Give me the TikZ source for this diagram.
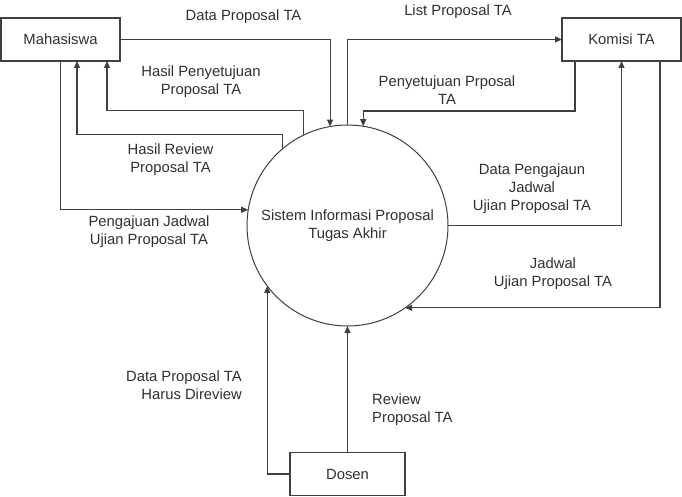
\documentclass[tikz,border=0pt]{standalone}
\usepackage{fontspec}
\setmainfont{Liberation Sans}
\usetikzlibrary{arrows.meta}
\definecolor{ln}{HTML}{404040}
\definecolor{tx}{HTML}{303030}
\begin{document}
\begin{tikzpicture}[x=1pt,y=-1pt,
  font=\fontsize{14.8}{18}\selectfont,
  ent/.style={draw=ln,line width=1.2pt,minimum height=43pt,inner sep=0pt,outer sep=0pt,text=tx},
  proc/.style={draw=ln,line width=1pt,circle,minimum size=201pt,inner sep=0pt,outer sep=0pt,text=tx,align=center},
  flow/.style={draw=ln,line width=1.1pt,-{Triangle[length=7pt,width=6pt]}},
  lbl/.style={text=tx,align=center,inner sep=0pt}]
\useasboundingbox[fill=white] (0,0) rectangle (682,497);

\node[ent,minimum width=119pt] (m) at (60.5,39.5) {Mahasiswa};
\node[ent,minimum width=119pt] (k) at (621.5,39.5) {Komisi TA};
\node[ent,minimum width=115pt] (d) at (347.5,474) {Dosen};
\node[proc] (c) at (347.5,225.5) {Sistem Informasi Proposal\\Tugas Akhir};

% flows
\draw[flow] (m.east) -| (c.100.08);
\draw[flow] (c.north) |- (k.west);
\draw[flow] ([xshift=13pt]k.south west) -- ++(0,50) -| (c.81.08);
\draw[flow] (c.east) -| (k.south);
\draw[flow] ([xshift=-21pt]k.south east) |- (c.-55.6);
\draw[flow] (c.116.42) -- ++(0,-25) -| ([xshift=106pt]m.south west);
\draw[flow] (c.130.16) -- ++(0,-14) -| ([xshift=76pt]m.south west);
\draw[flow] (m.south) |- (c.171.08);
\draw[flow] (d.west) -| (c.-143.6);
\draw[flow] (d.north) -- (c.south);

% labels
\node[lbl] (l1) at (243.5,17) {Data Proposal TA};
\node[lbl] (l2) at (458,12) {List Proposal TA};
\node[lbl] (l3) at (201,82) {Hasil Penyetujuan\\Proposal TA};
\node[lbl] (l4) at (447,90) {Penyetujuan Prposal\\TA};
\node[lbl] (l5) at (170.5,160) {Hasil Review\\Proposal TA};
\node[lbl] (l6) at (532,189) {Data Pengajaun\\Jadwal\\Ujian Proposal TA};
\node[lbl] (l7) at (149,231.5) {Pengajuan Jadwal\\Ujian Proposal TA};
\node[lbl] (l8) at (553,274) {Jadwal\\Ujian Proposal TA};
\node[lbl,align=right,anchor=east] (l9) at (242,385.5) {Data Proposal TA\\Harus Direview};
\node[lbl,align=left,anchor=west] (l10) at (372,410) {Review\\Proposal TA};
\end{tikzpicture}
\end{document}
